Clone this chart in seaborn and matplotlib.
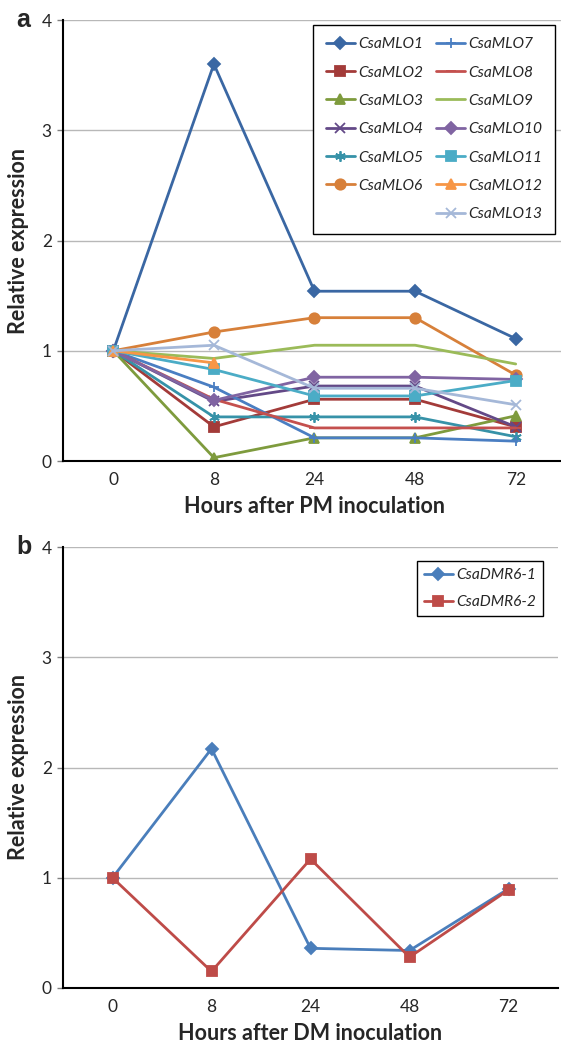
import pandas as pd
import numpy as np
import matplotlib
matplotlib.use('Agg')
import matplotlib.pyplot as plt
from matplotlib.lines import Line2D
import seaborn as sns

hours = ['0', '8', '24', '48', '72']

# panel a: MLO genes after PM inoculation
mlo_names = ['CsaMLO1', 'CsaMLO2', 'CsaMLO3', 'CsaMLO4', 'CsaMLO5', 'CsaMLO6', 'CsaMLO7',
             'CsaMLO8', 'CsaMLO9', 'CsaMLO10', 'CsaMLO11', 'CsaMLO12', 'CsaMLO13']
mlo1 = [1, 3.60, 1.54, 1.54, 1.11]
mlo2 = [1, 0.31, 0.56, 0.56, 0.31]
mlo3 = [1, 0.03, 0.21, 0.21, 0.41]
mlo4 = [1, 0.54, 0.68, 0.68, 0.31]
mlo5 = [1, 0.40, 0.40, 0.40, 0.22]
mlo6 = [1, 1.17, 1.30, 1.30, 0.78]
mlo7 = [1, 0.67, 0.21, 0.21, 0.18]
mlo8 = [1, 0.56, 0.30, 0.30, 0.30]
mlo9 = [1, 0.93, 1.05, 1.05, 0.88]
mlo10 = [1, 0.55, 0.76, 0.76, 0.74]
mlo11 = [1, 0.83, 0.59, 0.59, 0.73]
mlo12 = [1, 0.89, np.nan, np.nan, np.nan]
mlo13 = [1, 1.05, 0.66, 0.66, 0.51]
mlo_values = [mlo1, mlo2, mlo3, mlo4, mlo5, mlo6, mlo7, mlo8, mlo9, mlo10, mlo11, mlo12, mlo13]
mlo_colors = ['#3A67A3', '#A33B39', '#7E9B3D', '#634987', '#3692A8', '#D7803A', '#4A7EC2',
              '#C4504E', '#9BBB59', '#8064A2', '#4BACC6', '#F79646', '#A5B8D8']
asterisk = (6, 2, 0)
mlo_markers = ['D', 's', '^', 'x', asterisk, 'o', '+', '_', None, 'D', 's', '^', 'x']

# panel b: DMR6 genes after DM inoculation
dmr_names = ['CsaDMR6-1', 'CsaDMR6-2']
dmr1 = [1, 2.17, 0.36, 0.34, 0.90]
dmr2 = [1, 0.15, 1.17, 0.28, 0.89]
dmr_values = [dmr1, dmr2]
dmr_colors = ['#4A7EBB', '#BE4B48']
dmr_markers = ['D', 's']

sns.set_style('white')
plt.rcParams['font.family'] = ['Lato', 'DejaVu Sans']

fig = plt.figure(figsize=(5.61, 10.43), dpi=100)
W, H = 561.0, 1043.0
ax_a = fig.add_axes([63 / W, (H - 461) / H, 503 / W, 441 / H])
ax_b = fig.add_axes([63 / W, (H - 988) / H, 495 / W, 441 / H])


def draw(ax, names, values, colors, markers):
    pos = list(range(len(hours)))
    for name, vals, col, mk in zip(names, values, colors, markers):
        df = pd.DataFrame({'x': pos, 'y': vals}).dropna()
        kw = dict(marker=mk, markersize=7.5, markeredgewidth=1.3) if mk else {}
        if mk == 'D':
            kw['markersize'] = 6
        sns.lineplot(data=df, x='x', y='y', color=col, linewidth=2.0, ax=ax,
                     label=name, markeredgecolor=col, **kw)


def style(ax, xlabel):
    ax.set_xlim(-0.5, 4.5)
    ax.set_ylim(0, 4)
    ax.set_yticks([0, 1, 2, 3, 4])
    ax.set_xticks(range(len(hours)))
    ax.set_xticklabels(hours)
    ax.yaxis.grid(True, color='#B8B8B8', linewidth=1.0)
    ax.set_axisbelow(True)
    for s in ['top', 'right']:
        ax.spines[s].set_visible(False)
    for s in ['left', 'bottom']:
        ax.spines[s].set_color('black')
        ax.spines[s].set_linewidth(1.5)
    ax.tick_params(axis='y', length=4, width=1, color='#808080', pad=4, labelsize=12.5, left=True)
    ax.tick_params(axis='x', length=0, pad=8, labelsize=12.5)
    ax.set_xlabel(xlabel, fontsize=15.5, fontweight='bold', labelpad=6)
    ax.set_ylabel('Relative expression', fontsize=15.5, fontweight='bold', labelpad=9)


draw(ax_a, mlo_names, mlo_values, mlo_colors, mlo_markers)
draw(ax_b, dmr_names, dmr_values, dmr_colors, dmr_markers)
style(ax_a, 'Hours after PM inoculation')
style(ax_b, 'Hours after DM inoculation')

# legend a: 6 in first column, 7 in second
handles, labels = ax_a.get_legend_handles_labels()
blank = Line2D([], [], linestyle='none')
handles = handles[:6] + [blank] + handles[6:]
labels = labels[:6] + [''] + labels[6:]
leg = ax_a.legend(handles, labels, ncol=2, loc='upper right', bbox_to_anchor=(0.978, 0.989),
                  borderaxespad=0, frameon=True, fancybox=False, edgecolor='black', framealpha=1,
                  prop={'style': 'italic', 'size': 11.2}, handlelength=1.9, handletextpad=0.2,
                  columnspacing=0.8, labelspacing=0.92, borderpad=0.8)
leg.get_frame().set_linewidth(1.0)

leg_b = ax_b.legend(loc='upper right', bbox_to_anchor=(0.970, 0.968), borderaxespad=0,
                    frameon=True, fancybox=False, edgecolor='black', framealpha=1,
                    prop={'style': 'italic', 'size': 11.2}, handlelength=1.9, handletextpad=0.2,
                    labelspacing=0.85, borderpad=0.45)
leg_b.get_frame().set_linewidth(1.0)

fig.text(16 / W, 1 - 20 / H, 'a', fontsize=18, fontweight='bold', family='Liberation Sans', va='center')
fig.text(16 / W, 1 - 547 / H, 'b', fontsize=18, fontweight='bold', family='Liberation Sans', va='center')

fig.savefig('out.png', dpi=100)
